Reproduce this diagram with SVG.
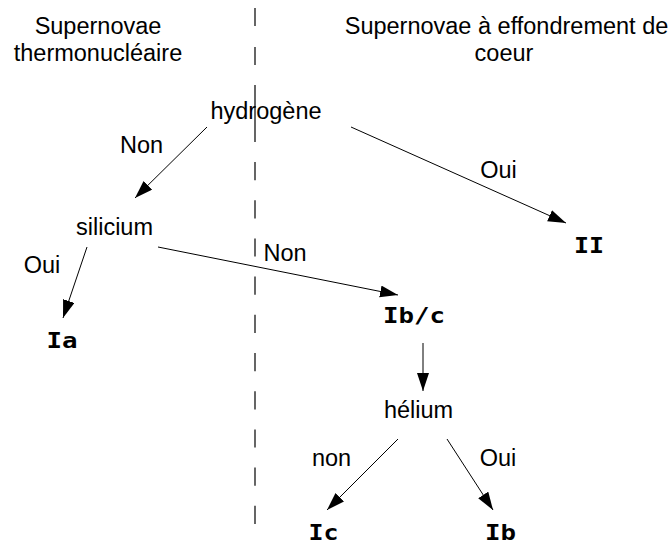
<svg xmlns="http://www.w3.org/2000/svg" width="671" height="544" viewBox="0 0 671 544">
<style>
.t{font-family:"Liberation Sans",Arial,sans-serif;font-size:23.5px;fill:#000;text-anchor:middle}
.b{font-family:"DejaVu Sans Mono",monospace;font-weight:bold;font-size:21.5px;fill:#000;text-anchor:middle}
.c line{stroke:#000;stroke-width:1;marker-end:url(#ah)}
.d{stroke:#000;stroke-width:1.2;fill:none}
</style>
<defs>
<marker id="ah" markerUnits="userSpaceOnUse" markerWidth="19" markerHeight="13" refX="18" refY="6" orient="auto">
<path d="M0,0 L18,6 L0,12 z" fill="#000"/>
</marker>
</defs>
<rect width="671" height="544" fill="#fff"/>
<g id="divider">
<line class="d" x1="255" y1="8" x2="255" y2="142" stroke-dasharray="18 21 18 20 57"/>
<line class="d" x1="255" y1="162" x2="255" y2="544" stroke-dasharray="18.2 20"/>
</g>
<g id="heading-left">
<text class="t" x="98" y="34">Supernovae</text>
<text class="t" x="98" y="61">thermonucléaire</text>
</g>
<g id="heading-right">
<text class="t" x="506.5" y="34">Supernovae à effondrement de</text>
<text class="t" x="504" y="61">coeur</text>
</g>
<g id="connectors" class="c">
<line x1="207" y1="127" x2="135" y2="198"/>
<line x1="351" y1="127" x2="566" y2="223"/>
<line x1="87" y1="247" x2="63" y2="318"/>
<line x1="158" y1="247" x2="398" y2="295"/>
<line x1="423" y1="343" x2="423" y2="391"/>
<line x1="398" y1="439" x2="327" y2="510"/>
<line x1="447" y1="439" x2="493" y2="510"/>
</g>
<g id="labels">
<text class="t" x="141.5" y="153">Non</text>
<text class="t" x="498.5" y="178">Oui</text>
<text class="t" x="42" y="273">Oui</text>
<text class="t" x="285" y="261">Non</text>
<text class="t" x="331.5" y="466">non</text>
<text class="t" x="498" y="466">Oui</text>
</g>
<g id="hydrogene"><text class="t" x="266" y="119">hydrogène</text></g>
<g id="silicium"><text class="t" x="114.5" y="235">silicium</text></g>
<g id="helium"><text class="t" x="418.5" y="418">hélium</text></g>
<g id="II"><text class="b" x="589" y="253" textLength="30" lengthAdjust="spacingAndGlyphs">II</text></g>
<g id="Ia"><text class="b" x="62" y="348" textLength="31" lengthAdjust="spacingAndGlyphs">Ia</text></g>
<g id="Ibc"><text class="b" x="414" y="323" textLength="62" lengthAdjust="spacingAndGlyphs">Ib/c</text></g>
<g id="Ic"><text class="b" x="323.5" y="540" textLength="30" lengthAdjust="spacingAndGlyphs">Ic</text></g>
<g id="Ib"><text class="b" x="500.5" y="540" textLength="31" lengthAdjust="spacingAndGlyphs">Ib</text></g>
</svg>
